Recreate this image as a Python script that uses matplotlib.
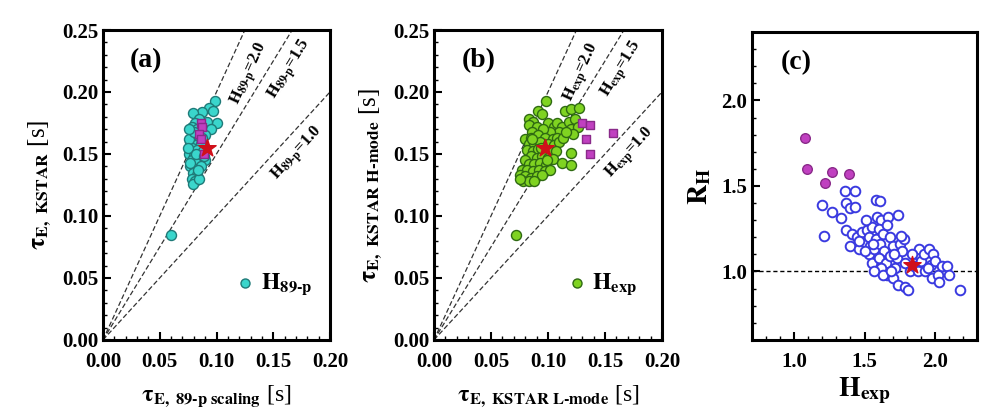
import numpy as np
import matplotlib
matplotlib.use("Agg")
import matplotlib.pyplot as plt
from matplotlib.ticker import MultipleLocator

plt.rcParams['font.family'] = ['Liberation Serif', 'DejaVu Serif']
plt.rcParams['font.weight'] = 'bold'
plt.rcParams['mathtext.fontset'] = 'stix'

# ---- panel (a): tau_E KSTAR vs tau_E 89-p scaling ----
a_x = [0.099, 0.093, 0.087, 0.079, 0.097, 0.100, 0.092, 0.085, 0.081, 0.078,
       0.083, 0.088, 0.095, 0.090, 0.079, 0.082, 0.077, 0.081, 0.086, 0.078,
       0.083, 0.088, 0.076, 0.080, 0.085, 0.078, 0.082, 0.090, 0.077, 0.081,
       0.086, 0.079, 0.083, 0.078, 0.081, 0.079, 0.085, 0.076, 0.084, 0.080,
       0.076, 0.087, 0.075, 0.082, 0.077, 0.084, 0.089, 0.060]
a_y = [0.193, 0.187, 0.184, 0.183, 0.185, 0.175, 0.176, 0.178, 0.175, 0.172,
       0.170, 0.170, 0.170, 0.165, 0.165, 0.162, 0.160, 0.157, 0.158, 0.155,
       0.153, 0.152, 0.150, 0.148, 0.147, 0.145, 0.143, 0.145, 0.140, 0.138,
       0.140, 0.135, 0.133, 0.130, 0.128, 0.126, 0.130, 0.162, 0.165, 0.168,
       0.170, 0.163, 0.155, 0.150, 0.143, 0.137, 0.148, 0.085]
a_mag_x = [0.086, 0.087, 0.085, 0.086, 0.089]
a_mag_y = [0.175, 0.172, 0.166, 0.162, 0.150]
a_star = (0.092, 0.155)

# ---- panel (b): tau_E KSTAR H-mode vs L-mode ----
b_x = [0.098, 0.091, 0.095, 0.115, 0.120, 0.127, 0.083, 0.087, 0.083, 0.090,
       0.100, 0.105, 0.108, 0.112, 0.118, 0.124, 0.120, 0.126, 0.122, 0.110,
       0.102, 0.096, 0.086, 0.080, 0.085, 0.091, 0.097, 0.104, 0.108, 0.083,
       0.088, 0.093, 0.100, 0.105, 0.110, 0.082, 0.087, 0.091, 0.102, 0.107,
       0.120, 0.085, 0.090, 0.095, 0.100, 0.104, 0.080, 0.083, 0.088, 0.093,
       0.098, 0.112, 0.120, 0.077, 0.082, 0.087, 0.092, 0.097, 0.102, 0.075,
       0.080, 0.085, 0.090, 0.095, 0.078, 0.083, 0.088, 0.075, 0.072, 0.086,
       0.094, 0.099, 0.113, 0.116]
b_y = [0.193, 0.185, 0.182, 0.185, 0.186, 0.187, 0.178, 0.176, 0.173, 0.172,
       0.175, 0.172, 0.175, 0.172, 0.176, 0.178, 0.170, 0.172, 0.166, 0.168,
       0.168, 0.170, 0.168, 0.162, 0.163, 0.165, 0.163, 0.162, 0.163, 0.158,
       0.158, 0.160, 0.158, 0.157, 0.160, 0.153, 0.152, 0.154, 0.152, 0.152,
       0.151, 0.148, 0.147, 0.148, 0.147, 0.146, 0.145, 0.142, 0.142, 0.143,
       0.141, 0.143, 0.141, 0.137, 0.137, 0.136, 0.137, 0.136, 0.137, 0.133,
       0.132, 0.131, 0.132, 0.133, 0.128, 0.128, 0.128, 0.130, 0.085, 0.162,
       0.155, 0.145, 0.163, 0.168]
b_mag_x = [0.130, 0.137, 0.133, 0.137, 0.157]
b_mag_y = [0.175, 0.173, 0.162, 0.150, 0.167]
b_star = (0.097, 0.155)

# ---- panel (c): R_H vs H_exp ----
c_x = [1.20, 1.21, 1.27, 1.33, 1.36, 1.43, 1.37, 1.40, 1.43, 1.37,
       1.41, 1.40, 1.45, 1.48, 1.46, 1.50, 1.52, 1.53, 1.55, 1.54,
       1.53, 1.55, 1.57, 1.58, 1.58, 1.61, 1.59, 1.62, 1.60, 1.63,
       1.61, 1.64, 1.60, 1.65, 1.67, 1.66, 1.68, 1.62, 1.66, 1.68,
       1.70, 1.72, 1.70, 1.73, 1.74, 1.75, 1.77, 1.78, 1.79, 1.74,
       1.79, 1.81, 1.82, 1.85, 1.87, 1.89, 1.90, 1.88, 1.92, 1.96,
       1.97, 1.98, 1.99, 2.00, 2.02, 2.03, 2.05, 2.09, 2.10, 2.18,
       1.50, 1.57, 1.63, 1.71, 1.76, 1.84, 1.93, 1.46, 1.51, 1.56,
       1.69, 1.95]
c_y = [1.39, 1.21, 1.35, 1.31, 1.47, 1.47, 1.40, 1.37, 1.38, 1.24,
       1.22, 1.15, 1.20, 1.23, 1.13, 1.17, 1.24, 1.20, 1.26, 1.15,
       1.10, 1.05, 1.13, 1.19, 1.42, 1.41, 1.32, 1.30, 1.25, 1.22,
       1.16, 1.12, 1.08, 1.05, 1.32, 1.27, 1.20, 1.02, 0.98, 1.09,
       1.15, 1.02, 0.96, 1.08, 1.33, 1.16, 1.12, 1.19, 1.05, 0.92,
       0.91, 0.89, 1.00, 1.03, 1.10, 1.13, 1.06, 1.00, 1.10, 1.13,
       1.04, 0.96, 1.10, 1.06, 0.98, 0.94, 1.03, 1.03, 0.98, 0.89,
       1.12, 1.00, 0.98, 1.10, 1.21, 1.10, 1.00, 1.18, 1.30, 1.16,
       1.00, 1.02]
c_mag_x = [1.08, 1.09, 1.22, 1.27, 1.39]
c_mag_y = [1.78, 1.60, 1.52, 1.58, 1.57]
c_star = (1.84, 1.04)

h_lines = [2.0, 1.5, 1.0]
h_label_pos = [(0.130, 0.215), (0.165, 0.218), (0.172, 0.150)]

fig = plt.figure(figsize=(10, 4.11), dpi=100)
pos_a = [0.103, 0.173, 0.227, 0.754]
pos_b = [0.434, 0.173, 0.228, 0.754]
ax_a = fig.add_axes(pos_a)
ax_b = fig.add_axes(pos_b)
ax_c = fig.add_axes([0.752, 0.173, 0.225, 0.749])


def style_axes(ax):
    for s in ax.spines.values():
        s.set_linewidth(2.2)
    ax.tick_params(which='both', direction='in', top=False, right=False, labelsize=15)
    ax.tick_params(which='major', length=6, width=1.5)
    ax.tick_params(which='minor', length=3, width=1.0)
    ax.tick_params(axis='x', which='major', pad=9)
    for lab in ax.get_xticklabels() + ax.get_yticklabels():
        lab.set_fontweight('bold')


def tau_panel(ax, pos, x, y, mx, my, star, face, edge, hname, letter, xlab, ylab):
    # screen angle of the H lines
    sx = pos[2] * 1000 / 0.2
    sy = pos[3] * 411 / 0.25
    xx = np.array([0, 0.2])
    for h in h_lines:
        ax.plot(xx, h * xx, ls='--', color='#333333', lw=0.9, dashes=(4, 2))
    for h, (tx, ty) in zip(h_lines, h_label_pos):
        ang = np.degrees(np.arctan(h * sy / sx))
        ax.text(tx, ty, r'$\mathbf{H}_{\mathbf{%s}}$=%.1f' % (hname, h), rotation=ang,
                rotation_mode='anchor', ha='center', va='center',
                fontsize=12, fontweight='bold')
    ax.scatter(x, y, s=52, facecolor=face, edgecolor=edge, linewidth=1.0, zorder=3,
               label=r'$\mathrm{H}_{\mathbf{%s}}$' % hname)
    ax.scatter(mx, my, s=38, marker='s', facecolor='#c040c0', edgecolor='#8a2a8a', linewidth=1.0, zorder=4)
    ax.scatter([star[0]], [star[1]], s=170, marker='*', color='#d0101a', zorder=5)
    ax.set_xlim(0, 0.2)
    ax.set_ylim(0, 0.25)
    ax.xaxis.set_major_locator(MultipleLocator(0.05))
    ax.yaxis.set_major_locator(MultipleLocator(0.05))
    ax.xaxis.set_minor_locator(MultipleLocator(0.01))
    ax.yaxis.set_minor_locator(MultipleLocator(0.01))
    ax.xaxis.set_major_formatter(plt.FormatStrFormatter('%.2f'))
    ax.yaxis.set_major_formatter(plt.FormatStrFormatter('%.2f'))
    ax.text(0.12, 0.88, letter, transform=ax.transAxes, fontsize=20, fontweight='bold')
    ax.set_xlabel(xlab, fontsize=17, labelpad=8)
    ax.set_ylabel(ylab, fontsize=18, labelpad=6)
    ax.legend(loc='center left', bbox_to_anchor=(0.59, 0.18), frameon=False, fontsize=17,
              handletextpad=0.3, handlelength=0.7, markerscale=0.9, borderpad=0, borderaxespad=0)
    style_axes(ax)


tau_panel(ax_a, pos_a, a_x, a_y, a_mag_x, a_mag_y, a_star, '#3ad6cc', '#1f7a78', '89\\text{-}p', '(a)',
          r'$\mathbf{\tau_{E,\ 89\text{-}p\ scaling}}$ [s]', r'$\mathbf{\tau_{E,\ KSTAR}}$ [s]')
tau_panel(ax_b, pos_b, b_x, b_y, b_mag_x, b_mag_y, b_star, '#7fd321', '#2f6a12', 'exp', '(b)',
          r'$\mathbf{\tau_{E,\ KSTAR\ L\text{-}mode}}$ [s]', r'$\mathbf{\tau_{E,\ KSTAR\ H\text{-}mode}}$ [s]')

# panel (c)
ax_c.axhline(1.0, ls='--', color='black', lw=1.0, dashes=(3, 2))
ax_c.scatter(c_x, c_y, s=48, facecolor='white', edgecolor='#3a3ae0', linewidth=1.4, zorder=3)
ax_c.scatter(c_mag_x, c_mag_y, s=48, facecolor='#c040c0', edgecolor='#8a2a8a', linewidth=1.0, zorder=4)
ax_c.scatter([c_star[0]], [c_star[1]], s=170, marker='*', color='#d0101a', zorder=5)
ax_c.set_xlim(0.7, 2.3)
ax_c.set_ylim(0.6, 2.4)
ax_c.xaxis.set_minor_locator(MultipleLocator(0.1))
ax_c.yaxis.set_minor_locator(MultipleLocator(0.1))
ax_c.set_xticks([1.0, 1.5, 2.0])
ax_c.set_yticks([1.0, 1.5, 2.0])
ax_c.xaxis.set_major_formatter(plt.FormatStrFormatter('%.1f'))
ax_c.yaxis.set_major_formatter(plt.FormatStrFormatter('%.1f'))
ax_c.text(0.13, 0.88, '(c)', transform=ax_c.transAxes, fontsize=20, fontweight='bold')
ax_c.set_xlabel(r'$\mathrm{H}_{\mathbf{exp}}$', fontsize=20, labelpad=2)
ax_c.set_ylabel(r'$\mathrm{R}_{\mathbf{H}}$', fontsize=20, labelpad=6)
style_axes(ax_c)

fig.savefig('out.png', dpi=100)
